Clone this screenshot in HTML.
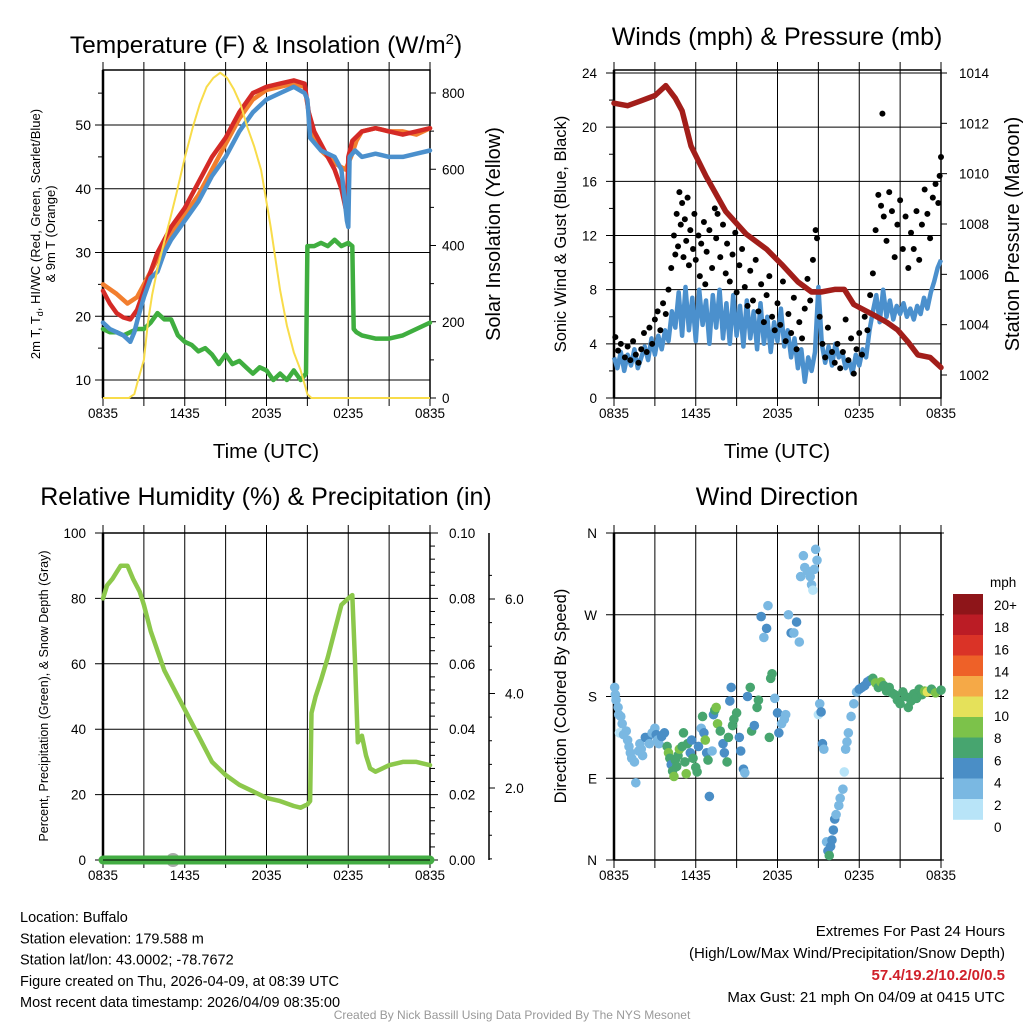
<!DOCTYPE html>
<html><head><meta charset="utf-8"><style>
html,body{margin:0;padding:0;background:#fff;}
svg{display:block;font-family:"Liberation Sans",Arial,sans-serif;}
</style></head><body>
<svg id="s" width="1024" height="1024" viewBox="0 0 1024 1024" xmlns="http://www.w3.org/2000/svg"></svg>
<script>
// ===== Panel 1: temperature =====
const redT=[0,0.5,1,1.5,2,2.5,3,3.5,4,5,6,7,8,9,10,11,12,13,14,14.8,15.1,15.5,16,16.5,17,17.5,17.9,18.0,18.3,19,20,21,22,23,24];
const redV=[24,22,20.5,19.8,19.5,21,24,27,30,34,37,41,45,48,52,55,56,56.5,57,56.5,52,49,47,45,43,40,36,45,47.5,49,49.5,49,48.5,49,49.5];
const orangeT=[0,1,1.8,2.5,3,4,5,6,7,8,9,10,11,12,13,14,14.8,15.1,15.5,16,17,17.8,18.2,18.6,19,20,21,22,23,24];
const orangeV=[25,23.5,22,23,25,29,33,36,39,43,47,51,54,55.5,56,56.5,56,52,48,46,44,43,45,47.5,49,49.5,49,49,48.5,49.5];
const blueT=[0,0.5,1,1.5,2,2.3,2.6,3,3.5,4,4.5,5,6,7,8,9,10,11,12,13,14,14.8,15.0,15.2,16,17,17.5,17.9,18.0,18.1,18.5,19,20,21,22,23,24];
const blueV=[19,18,17.5,17,16,17.5,20,23,26,27,30,32,35,38,42,45,49,52,54,55,56,55,54,48,46,45,43,35,34,45,46,45,45.5,45,45,45.5,46];
const greenT=[0,0.5,1,1.5,2,2.5,3,3.5,4,4.5,5,5.5,6,6.5,7,7.5,8,8.5,9,9.5,10,10.5,11,11.5,12,12.5,13,13.5,14,14.5,14.9,15.0,15.5,16,16.5,17,17.5,18,18.3,18.4,18.6,19,20,21,22,23,24];
const greenV=[18,17.5,17.5,17,17.5,18,18,19,20.5,19.5,19.5,17,16,15.5,14.5,15,14,12.5,14,12.5,13,12,11,12,11.5,10,11,10,11.5,10,11,31,31,31.5,31,32,31,31.5,31,18,17.5,17,16.5,16.5,17,18,19];
const solT=[0,1.9,2.3,2.6,3,3.3,3.6,4,4.4,5,5.4,6,6.6,7.1,7.6,8.1,8.6,9.1,9.6,10.1,10.6,11.1,11.6,12.3,13,13.5,14,14.5,15,15.3,24];
const solV=[0,0,10,50,100,200,270,340,396,480,538,630,711,770,816,840,853,840,810,770,710,660,598,450,283,190,120,73,10,0,0];
const tempTicks=[10,20,30,40,50];
const solTicks=[0,200,400,600,800];
const timeLabels=["0835","1435","2035","0235","0835"];
// ===== Panel 2: winds =====
const windV=[3.0,2.2,3.4,2.0,3.2,2.4,3.6,2.2,3.0, 3.8,2.8,4.4,3.2,4.6,3.6,5.0,4.2, 6.4,5.2,7.8,4.6,8.2,5.0,7.4,4.2, 8.0,5.4,7.2,4.0,7.6,5.2,8.0,4.4,7.0,4.0,7.6,4.6, 6.8,3.8,7.2,4.4,6.4,3.6,7.0,4.0, 6.0,3.4,5.6,4.2,6.6,3.8,5.0,3.0, 4.4,2.2,3.6,1.2,3.0,2.0,3.4,8.2, 4.0,2.6,3.8,2.4,4.0,3.0,3.4,2.2, 2.8,1.8,3.2,2.4,3.6,3.0,5.0,6.4, 7.6,5.6,8.0,6.0,7.2,5.8,6.8,6.2, 7.0,6.0,6.6,5.8,6.8,6.2,7.4,6.6,7.8,8.6,9.6,10.2];
const gustT=[0.1,0.3,0.5,0.8,1.0,1.2,1.4,1.6,1.8,2.0,2.2,2.4,2.6,2.8,3.0,3.2,3.4,3.6,3.8,4.0,4.2,4.4,4.5,4.6,4.7,4.8,4.9,5.0,5.1,5.2,5.3,5.4,5.5,5.6,5.8,5.9,6.0,6.2,6.3,6.4,6.6,6.7,6.8,7.0,7.2,7.4,7.5,7.6,7.8,8.0,8.2,8.3,8.5,8.7,8.9,9.0,9.2,9.4,9.6,9.8,10.0,10.2,10.4,10.6,10.8,11.0,11.2,11.4,11.6,11.8,12.0,12.2,12.4,12.6,12.8,13.0,13.2,13.4,13.6,13.8,14.0,14.2,14.4,14.6,14.8,14.9,15.1,15.3,15.5,15.7,16.0,16.2,16.4,16.6,16.8,17.0,17.2,17.4,17.6,17.8,18.0,18.2,18.4,18.6,18.8,19.0,19.2,19.4,19.6,19.7,19.8,20.0,20.2,20.4,20.6,20.8,21.0,21.2,21.4,21.6,21.8,22.0,22.2,22.4,22.6,22.8,23.0,23.2,23.4,23.6,23.8,23.9,24.0];
const gustV=[4.5,3.5,4,3,3.8,2.8,4.2,3.2,2.6,3.6,4.8,3.4,5.2,4.0,5.8,6.4,5.0,7.0,6.2,8.0,9.6,12.0,10.6,13.6,11.2,15.2,12.8,14.4,10.4,13.2,11.6,14.8,9.8,12.4,11.0,13.6,10.2,12.0,9.0,11.4,13.0,8.4,10.8,12.4,9.6,14.0,11.8,13.6,10.4,12.8,9.2,11.4,8.6,10.6,12.2,7.8,9.8,11.0,8.2,6.8,9.4,7.2,10.2,6.4,8.4,5.6,7.6,9.0,6.0,5.0,7.0,5.4,8.6,4.2,6.2,4.8,7.4,3.6,5.6,4.4,6.6,8.8,7.2,10.2,12.4,11.8,6.0,4.0,3.0,5.2,3.4,2.6,4.0,2.2,3.4,5.8,2.8,4.4,1.8,3.6,4.8,3.2,6.0,5.0,7.6,9.2,12.4,15.0,14.2,21.0,13.4,11.6,15.2,13.8,10.4,12.8,14.6,11.0,13.4,9.6,12.2,11.0,13.8,10.2,12.8,15.4,13.6,11.8,14.8,15.8,14.4,16.4,17.8];
const presT=[0,1,2,3,3.8,4.5,5,5.65,6.75,8.2,9.7,11.2,12.3,13.5,14.5,15.2,16.2,16.9,17.6,19,20,20.8,21.6,22.3,23.2,24];
const presV=[1012.8,1012.7,1012.9,1013.1,1013.5,1013.0,1012.5,1011.1,1009.9,1008.5,1007.6,1007.0,1006.4,1005.7,1005.3,1005.3,1005.4,1005.4,1004.8,1004.4,1004.1,1003.8,1003.3,1002.8,1002.7,1002.3];
const windTicks=[0,4,8,12,16,20,24];
const presTicks=[1002,1004,1006,1008,1010,1012,1014];
// ===== Panel 3: RH =====
const rhT=[0,0.3,0.7,1.0,1.3,1.8,2.2,2.7,3,3.5,4,4.5,5,5.5,6,7,8,9,10,11,12,13,14,14.5,15,15.2,15.3,15.6,16,16.5,17,17.5,18,18.3,18.5,18.7,19,19.3,19.6,20,21,22,23,24];
const rhV=[80,84,86,88,90,90,86,82,78,70,64,58,54,50,46,38,30,26,23,21,19,18,16.5,16,17,18,45,50,55,62,70,78,80,81,60,36,38,32,28,27,29,30,30,29];
const rhTicks=[0,20,40,60,80,100];
const precipTicks=["0.00","0.02","0.04","0.06","0.08","0.10"];
const snowTicks=[2.0,4.0,6.0];
// ===== Panel 4: wind direction =====
const dirT=[0.05,0.1,0.15,0.3,0.35,0.5,0.6,0.4,0.7,0.9,1.0,1.1,1.2,1.3,1.5,1.6,1.8,1.9,2.0,2.1,2.3,2.5,2.6,2.8,3.0,3.1,3.2,3.3,3.5,3.7,3.9,4.0,4.1,4.2,4.3,4.4,4.5,4.6,4.7,4.8,5.0,5.1,5.2,5.3,5.4,5.6,5.7,5.8,6.0,6.1,6.2,6.4,6.5,6.6,6.7,6.8,6.9,7.0,7.2,7.3,7.4,7.5,7.6,7.8,8.0,8.1,8.3,8.4,8.5,8.6,8.7,8.8,9.0,9.2,9.3,9.5,9.6,9.8,10.0,10.1,10.3,10.5,10.6,10.8,11.0,11.2,11.3,11.4,11.5,11.6,11.8,12.0,12.1,12.3,12.5,12.6,12.8,13.0,13.2,13.4,13.6,13.7,13.9,14.0,14.2,14.4,14.5,14.6,14.7,14.8,14.9,15.0,15.1,15.2,15.3,15.4,15.6,15.7,15.8,15.9,16.0,16.1,16.2,16.3,16.5,16.6,16.8,16.9,17.0,17.1,17.2,17.4,17.6,17.8,18.0,18.2,18.4,18.6,18.8,19.0,19.2,19.4,19.6,19.8,20.0,20.2,20.4,20.6,20.8,21.0,21.2,21.4,21.6,21.8,22.0,22.2,22.4,22.6,22.8,23.0,23.3,23.6,24.0];
const dirDeg=[190,182,176,168,160,158,150,140,138,142,132,125,118,112,108,85,120,128,122,115,135,135,128,140,145,138,132,128,136,140,125,118,112,105,98,92,110,103,115,122,125,140,108,95,128,118,132,112,102,97,125,145,158,140,132,118,110,70,120,160,165,168,150,142,128,118,108,135,175,190,148,155,162,135,120,100,96,180,190,142,148,168,176,268,245,255,280,135,200,205,178,162,140,150,155,160,270,250,250,262,240,312,335,322,318,312,303,297,320,342,330,160,172,163,128,122,20,10,5,15,22,33,45,50,60,68,78,97,122,130,140,158,172,185,188,190,192,196,198,200,195,190,196,192,186,190,184,182,176,172,185,180,168,175,183,178,188,182,186,185,188,184,187];
const dirSpd=[2.5,3,3,3,3,3,3,1.5,3,3,3,3,3,3,3,3,3,3,3,3,5,5,3,3,3,5,3,3,5,5,7,9,7,5,7,9,7,7,7,9,7,7,7,9,7,5,5,7,7,7,5,3,7,5,9,5,7,5,3,5,7,8.5,9,7,5,5,7,7,5,5,7,7,7,5,5,5,3,5,7,7,5,7,7,5,3,5,3,7,7,7,3,5,5,3,3,3,3,5,3,5,3,3,3,3,3,3,3,1,3,3,3,1,3,5,5,3,3,5,7,5,5,5,5,3,3,3,3,1,3,3,3,3,3,3,5,5,5,5,5,7,9,7,9,7,7,7,7,7,7,7,7,7,7,7,7,7,7,7,9,10,7,9,7,7];
const dirLabels=["N","E","S","W","N"];
const cbLabels=["20+","18","16","14","12","10","8","6","4","2","0"];
const cbColors=["#8e1519","#bb1c25","#da3327","#ee6128","#f5a947","#e5e15a","#7cc24a","#47a56f","#4a8ec6","#7ab8e2","#b8e4f8"];

const NS="http://www.w3.org/2000/svg";
const svg=document.getElementById('s');
function el(tag,attrs,parent,text){const e=document.createElementNS(NS,tag);for(const k in attrs)e.setAttribute(k,attrs[k]);if(text!==undefined)e.textContent=text;(parent||svg).appendChild(e);return e;}
function grp(name){const g=el('g',{});


return g;}
function lin(d0,d1,r0,r1){return v=>r0+(v-d0)/(d1-d0)*(r1-r0);}
function pathD(ts,vs,fx,fy){return ts.map((t,i)=>(i?'L':'M')+fx(t).toFixed(1)+','+fy(vs[i]).toFixed(1)).join('');}

function frame(name,x0,y0,x1,y1,fx){
  const g=grp(name);
  for(let h=0;h<=24;h+=3){const x=fx(h);el('line',{x1:x,y1:y0-8,x2:x,y2:y1+8,stroke:'#000','stroke-width':1},g);}
  el('rect',{x:x0,y:y0,width:x1-x0,height:y1-y0,fill:'none',stroke:'#000','stroke-width':1.5},g);
  el('line',{x1:x0,y1:y0,x2:x0,y2:y1,stroke:'#000','stroke-width':2.5},g);
  for(let i=0;i<timeLabels.length;i++){const t=el('text',{x:fx(i*6),y:y1+20,'font-size':13.5,'text-anchor':'middle'},g,timeLabels[i]);
  
  }
  return g;
}
function title(name,x,y,txt,size){const t=el('text',{x:x,y:y,'font-size':size||25,'text-anchor':'middle'},svg,txt);


return t;}
function vtitle(name,x,y,txt,size){const t=el('text',{x:x,y:y,'font-size':size,'text-anchor':'middle',transform:'rotate(-90 '+x+' '+y+')'},svg,txt);


return t;}
function hline(g,x0,x1,y,w){el('line',{x1:x0,y1:y,x2:x1,y2:y,stroke:'#000','stroke-width':w||1},g);}

// ---------- Panel 1 ----------
(function(){
 const X0=103,X1=430,Y0=70,Y1=398;
 const fx=lin(0,24,X0,X1), fy=lin(10,50,380,125), fs=lin(0,800,398,93);
 const g=frame('temperature-panel',X0,Y0,X1,Y1,fx);
 tempTicks.forEach(v=>{hline(g,X0-8,X1,fy(v));const t=el('text',{x:X0-12,y:fy(v)+5,'font-size':14,'text-anchor':'end'},g,v);
 
 });
 for(let v=15;v<=55;v+=10)hline(g,X0-5,X0,fy(v));
 solTicks.forEach(v=>{hline(g,X1,X1+6,fs(v));const t=el('text',{x:X1+12,y:fs(v)+5,'font-size':13.5},g,v);
 
 });
 for(let v=100;v<=800;v+=200)hline(g,X1,X1+4,fs(v));
 const defs=[['green',greenT,greenV,'#3fae3f'],['orange',orangeT,orangeV,'#f27e2e'],['red',redT,redV,'#d42a26'],['blue',blueT,blueV,'#4b90cd']];
 defs.forEach(d=>{const p=el('path',{d:pathD(d[1],d[2],fx,fy),fill:'none',stroke:d[3],'stroke-width':4.5,'stroke-linejoin':'round','stroke-linecap':'round'},g);
 
 });
 const s=el('path',{d:pathD(solT,solV,fx,fs),fill:'none',stroke:'#f8dc4a','stroke-width':2},g);
 
 
 const tt=title('temperature-title',266,53,'Temperature (F) & Insolation (W/m',24.5);
 el('tspan',{dy:-9,'font-size':15},tt,'2');el('tspan',{dy:9},tt,')');
 title('x-axis-title',266,458,'Time (UTC)',20.5);
 const yt=vtitle('temperature-y-axis-title',40,234,'',13);
 yt.textContent='2m T, T';el('tspan',{dy:3,'font-size':9},yt,'d');el('tspan',{dy:-3},yt,', HI/WC (Red, Green, Scarlet/Blue)');
 vtitle('temperature-y-axis-title-2',55,234,'& 9m T (Orange)',13);
 vtitle('insolation-y-axis-title',500,234,'Solar Insolation (Yellow)',20);
})();

// ---------- Panel 2 ----------
(function(){
 const X0=614,X1=941,Y0=70,Y1=398;
 const fx=lin(0,24,X0,X1), fy=lin(0,24,398,73), fp=lin(1002,1014,375,73);
 const g=frame('winds-panel',X0,Y0,X1,Y1,fx);
 windTicks.forEach(v=>{hline(g,X0-8,X1,fy(v));const t=el('text',{x:X0-17,y:fy(v)+5,'font-size':13.5,'text-anchor':'end'},g,v);
 
 });
 for(let v=2;v<24;v+=4)hline(g,X0-5,X0,fy(v));
 presTicks.forEach(v=>{hline(g,X1,X1+6,fp(v));const t=el('text',{x:X1+18,y:fp(v)+5,'font-size':13.5},g,v);
 
 });
 const wt=windV.map((v,i)=>i*0.25);
 const w=el('path',{d:pathD(wt,windV,fx,fy),fill:'none',stroke:'#4b90cd','stroke-width':4.5,'stroke-linejoin':'round'},g);
 
 
 const p=el('path',{d:pathD(presT,presV,fx,fp),fill:'none',stroke:'#a21e1a','stroke-width':5.5,'stroke-linejoin':'round','stroke-linecap':'round'},g);
 
 
 gustT.forEach((t,i)=>{const c=el('circle',{cx:fx(t),cy:fy(gustV[i]),r:3,fill:'#000'},g);
 
 });
 title('winds-title',777,45,'Winds (mph) & Pressure (mb)');
 title('x-axis-title-2',777,458,'Time (UTC)',20.5);
 vtitle('wind-y-axis-title',566,234,'Sonic Wind & Gust (Blue, Black)',16.5);
 vtitle('pressure-y-axis-title',1019,234,'Station Pressure (Maroon)',20);
})();

// ---------- Panel 3 ----------
(function(){
 const X0=103,X1=430,Y0=533,Y1=860;
 const fx=lin(0,24,X0,X1), fy=lin(0,100,860,533), fsn=lin(2,6,788,599);
 const g=frame('humidity-panel',X0,Y0,X1,Y1,fx);
 rhTicks.forEach((v,i)=>{hline(g,X0-8,X1+8,fy(v));const t=el('text',{x:X0-17,y:fy(v)+5,'font-size':13.5,'text-anchor':'end'},g,v);
 
 
 const r=el('text',{x:X1+19,y:fy(v)+5,'font-size':13.5},g,precipTicks[i]);
 
 });
 for(let v=4;v<100;v+=4)if(v%20)hline(g,X1,X1+5,fy(v));
 el('line',{x1:489,y1:Y0,x2:489,y2:Y1,stroke:'#000','stroke-width':1.5},g);
 for(let v=0.5;v<=6.6;v+=0.5){const y=fsn(v);if(y>=Y0&&y<=Y1)hline(g,489,492,y);}
 snowTicks.forEach(v=>{hline(g,489,495,fsn(v));const t=el('text',{x:505,y:fsn(v)+5,'font-size':13.5},g,v.toFixed(1));
 
 });
 const r=el('path',{d:pathD(rhT,rhV,fx,fy),fill:'none',stroke:'#8cc84b','stroke-width':4.5,'stroke-linejoin':'round','stroke-linecap':'round'},g);
 
 
 const sd=el('circle',{cx:173,cy:860,r:7,fill:'#aaa'},g);
 
 
 const pr=el('line',{x1:X0,y1:860,x2:X1,y2:860,stroke:'#43ad43','stroke-width':9,'stroke-linecap':'round'},g);
 
 
 hline(g,X0,X1,860,1);
 title('humidity-title',266,505,'Relative Humidity (%) & Precipitation (in)');
 vtitle('humidity-y-axis-title',48,696,'Percent, Precipitation (Green), & Snow Depth (Gray)',12.5);
})();

// ---------- Panel 4 ----------
(function(){
 const X0=614,X1=941,Y0=533,Y1=860;
 const fx=lin(0,24,X0,X1), fy=lin(0,360,860,533);
 const g=frame('wind-direction-panel',X0,Y0,X1,Y1,fx);
 dirLabels.forEach((l,i)=>{const y=fy(i*90);hline(g,X0-8,X1+3,y);const t=el('text',{x:597,y:y+5,'font-size':13.5,'text-anchor':'end'},g,l);
 
 });
 function col(s){const idx=Math.min(10,Math.floor(s/2));return cbColors[10-idx];}
 dirT.forEach((t,i)=>{const c=el('circle',{cx:fx(t),cy:fy(dirDeg[i]),r:4.8,fill:col(dirSpd[i])},g);
 
 });
 const cb=grp('speed-colorbar');
 cbColors.forEach((c,i)=>el('rect',{x:953,y:594+i*20.5,width:30,height:20.8,fill:c},cb));
 el('text',{x:990,y:587,'font-size':13.5},cb,'mph');
 cbLabels.forEach((l,i)=>{const t=el('text',{x:994,y:610+i*22.2,'font-size':13.5},cb,l);
 
 });
 title('wind-direction-title',777,505,'Wind Direction');
 vtitle('direction-y-axis-title',566,696,'Direction (Colored By Speed)',16.5);
})();

// ---------- Footer ----------
(function(){
 const g=grp('station-info');
 ["Location: Buffalo","Station elevation: 179.588 m","Station lat/lon: 43.0002; -78.7672","Figure created on Thu, 2026-04-09, at 08:39 UTC","Most recent data timestamp: 2026/04/09 08:35:00"].forEach((s,i)=>el('text',{x:20,y:922+i*21.3,'font-size':14.5},g,s));
 const r=grp('extremes-info');
 el('text',{x:1005,y:936,'font-size':15,'text-anchor':'end'},r,'Extremes For Past 24 Hours');
 el('text',{x:1005,y:958,'font-size':15,'text-anchor':'end'},r,'(High/Low/Max Wind/Precipitation/Snow Depth)');
 el('text',{x:1005,y:980,'font-size':15,'text-anchor':'end','font-weight':'bold',fill:'#d0202a'},r,'57.4/19.2/10.2/0/0.5');
 el('text',{x:1005,y:1002,'font-size':15,'text-anchor':'end'},r,'Max Gust: 21 mph On 04/09 at 0415 UTC');
 const c=el('text',{x:512,y:1019,'font-size':12,'text-anchor':'middle',fill:'#999'},svg,'Created By Nick Bassill Using Data Provided By The NYS Mesonet');
 
 
})();
</script>
</body></html>
